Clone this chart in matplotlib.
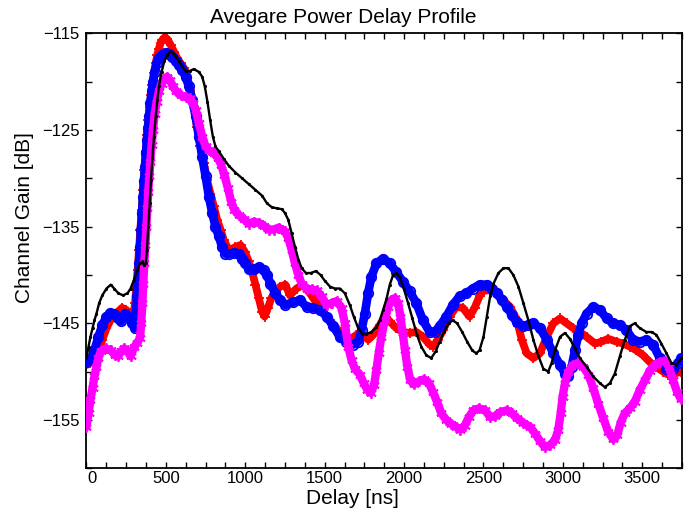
import matplotlib
matplotlib.use("Agg")
import matplotlib.pyplot as plt
import matplotlib.transforms as mtransforms
from matplotlib.ticker import FixedLocator, FixedFormatter

plt.rcParams['font.family'] = ['Liberation Sans', 'DejaVu Sans']

title_text = "Avegare Power Delay Profile"
xlabel_text = "Delay [ns]"
ylabel_text = "Channel Gain [dB]"

red_ns = [0, 25, 50, 75, 100, 126, 151, 176, 199, 224, 249, 274, 295,
          306, 314, 322, 331, 339, 348, 356, 364, 373, 381, 389, 398, 406, 415, 425, 436, 446, 456, 467, 477,
          494, 509, 530, 551, 572, 593, 614, 634, 655, 676, 697, 718, 739, 760, 781, 802, 823, 844, 865, 886, 907,
          938, 970, 997, 1022, 1043, 1064, 1085, 1106, 1122, 1143, 1164, 1189, 1221, 1252,
          1281, 1323, 1365, 1407, 1449, 1491, 1533, 1575, 1616, 1658, 1700, 1742, 1774, 1805, 1847, 1878, 1910,
          1951, 1993, 2035, 2077, 2119, 2161, 2182, 2213, 2245, 2287, 2328, 2370, 2412, 2444, 2475,
          2500, 2542, 2573, 2605, 2636, 2668, 2699, 2720, 2741, 2772, 2814, 2856, 2898, 2940, 2982, 3024, 3065,
          3107, 3149, 3202, 3243, 3285, 3338, 3379, 3421, 3463, 3505, 3547, 3589, 3631, 3662, 3704, 3746]
red_db = [-149.3, -149.1, -148.8, -147.9, -146.7, -145.5, -144.7, -144.0, -143.8, -143.4, -143.6, -144.0, -144.3,
          -142.9, -141.2, -139.5, -137.4, -135.3, -133.3, -131.2, -129.1, -127.2, -125.5, -124.0, -122.6, -121.4,
          -120.3, -119.1, -118.1, -117.2, -116.6, -116.0, -115.7,
          -115.4, -115.6, -116.2, -116.9, -117.6, -118.1, -118.6, -119.5, -120.9, -122.6, -124.7, -126.7, -128.4,
          -130.2, -131.6, -132.9, -134.3, -135.3, -136.4, -137.1, -137.4,
          -137.1, -136.9, -137.6, -138.6, -139.7, -141.0, -142.4, -143.8, -144.3, -143.4, -142.4, -141.6, -141.2, -141.0,
          -142.1, -141.4, -141.0, -141.9, -142.9, -143.8, -144.7, -145.5, -146.4, -146.7, -146.2, -146.2, -146.7,
          -146.2, -145.2, -144.3, -144.8, -145.5, -145.9, -146.0, -145.9, -146.4, -147.2, -147.4, -146.7, -145.7,
          -144.3, -143.3, -143.4, -144.3, -143.4, -142.2,
          -141.6, -141.6, -141.7, -142.2, -142.8, -143.3, -144.3, -145.3, -146.7, -148.1, -148.6, -148.1, -146.4,
          -145.0, -144.5, -145.0, -145.5, -145.9, -146.4, -147.1, -146.9, -146.6, -146.9, -147.1, -147.4, -147.8,
          -148.3, -149.0, -149.5, -150.0, -150.3, -150.2, -150.0]

blue_ns = [0, 25, 50, 75, 100, 126, 151, 176, 199, 218, 243, 268, 289, 306,
           312, 318, 325, 331, 337, 343, 350, 356, 362, 369, 375, 381, 387, 394, 402, 410, 419, 429, 442, 456, 477,
           498, 519, 540, 561, 582, 603, 624, 645, 666, 687, 708, 729, 750, 771, 792, 812, 833, 854, 875, 896,
           928, 959, 980, 1001, 1022, 1053, 1085, 1116, 1137, 1158, 1189, 1221, 1252,
           1302, 1344, 1386, 1428, 1470, 1512, 1554, 1595, 1637, 1679, 1711, 1732, 1753, 1773, 1794, 1826, 1868,
           1910, 1951, 1993, 2035, 2077, 2119, 2161, 2192, 2224, 2266, 2307, 2349, 2391, 2433,
           2475, 2521, 2552, 2584, 2615, 2647, 2678, 2709, 2751, 2783, 2814, 2856, 2898, 2940, 2982, 3013, 3034,
           3055, 3076, 3097, 3118, 3149, 3191, 3233, 3275, 3317, 3359, 3400, 3442, 3484, 3526, 3568, 3610, 3652,
           3694, 3725, 3746]
blue_db = [-149.0, -148.8, -147.8, -146.4, -145.2, -144.3, -143.9, -144.0, -144.5, -144.8, -144.0, -144.3, -145.0, -145.5,
           -144.0, -142.2, -140.5, -138.8, -137.1, -135.3, -133.6, -131.9, -130.3, -128.8, -127.4, -126.0, -124.8,
           -123.6, -122.2, -121.0, -120.0, -119.0, -118.1, -117.6, -117.2,
           -117.0, -117.1, -117.5, -117.9, -118.3, -118.8, -119.5, -120.5, -121.9, -123.6, -125.7, -127.8, -129.8,
           -131.9, -133.6, -135.0, -136.0, -137.1, -137.8, -137.8,
           -137.7, -137.8, -138.3, -138.8, -139.4, -139.4, -139.2, -139.5, -140.0, -140.9, -141.9, -142.6, -143.1,
           -142.8, -142.6, -143.3, -143.4, -143.6, -144.3, -145.3, -146.4, -146.9, -147.2, -146.9, -145.7, -144.0,
           -141.9, -140.2, -138.8, -138.3, -138.8, -139.7, -140.7, -141.7, -142.9, -144.7, -145.9, -145.9, -145.3,
           -144.3, -143.1, -142.2, -141.9, -141.4,
           -141.0, -141.0, -141.4, -141.9, -142.6, -143.3, -144.1, -144.9, -145.3, -145.2, -145.0, -145.5, -146.7,
           -148.1, -149.3, -150.2, -150.5, -149.5, -147.8, -146.2, -145.0, -144.0, -143.3, -143.6, -144.5, -145.0,
           -145.2, -145.7, -146.7, -146.9, -146.7, -147.2, -148.6, -149.7, -149.7, -149.1, -148.6]

magenta_ns = [0, 13, 25, 38, 50, 63, 75, 90, 122, 153, 180, 199, 218, 237, 258, 278, 299, 320, 337,
              345, 352, 358, 364, 371, 377, 383, 389, 396, 402, 410, 419, 429, 442, 456, 473, 490, 507, 523,
              544, 565, 593, 624, 649, 670, 687, 708, 729, 750, 771, 802, 827, 848, 869, 890, 911, 932, 959,
              990, 1022, 1053, 1085, 1116, 1148, 1179, 1210,
              1250, 1271, 1292, 1313, 1334, 1355, 1386, 1418, 1449, 1480, 1512, 1543, 1575, 1606, 1627, 1648,
              1669, 1690, 1721, 1746, 1769, 1790, 1811, 1826, 1840, 1857, 1878, 1899, 1920, 1941, 1962, 1977,
              1991, 2006, 2021, 2039, 2062, 2094, 2125, 2157, 2182, 2207, 2234, 2266, 2297, 2328, 2353, 2381,
              2408, 2437, 2471,
              2510, 2542, 2573, 2605, 2647, 2678, 2709, 2751, 2793, 2825, 2856, 2887, 2919, 2950, 2971, 2986,
              2998, 3013, 3034, 3065, 3097, 3128, 3160, 3191, 3222, 3254, 3285, 3317, 3342, 3363, 3390, 3421,
              3453, 3484, 3516, 3547, 3578, 3610, 3641, 3668, 3694, 3719, 3742]
magenta_db = [-155.7, -154.3, -152.9, -151.7, -150.5, -149.5, -148.6, -147.9, -147.6, -147.8, -148.3, -148.4,
              -147.9, -147.6, -147.9, -148.4, -147.5, -147.0, -146.5,
              -145.0, -142.9, -140.9, -138.8, -136.9, -135.0, -133.1, -131.4, -129.8, -128.3, -126.6, -125.0,
              -123.4, -122.1, -121.0, -120.2, -119.7, -119.5, -119.8, -120.5, -121.0, -121.4, -121.6, -121.7,
              -122.2, -122.9, -124.3, -125.7, -126.7, -127.1, -127.4, -127.9, -128.6, -129.7, -131.0, -132.4,
              -133.3, -133.8, -134.2, -134.7, -134.5, -134.6, -134.9, -135.3, -135.3, -135.1,
              -135.5, -136.2, -137.4, -138.8, -140.0, -140.9, -141.4, -141.5, -141.6, -142.2, -143.1, -142.9,
              -142.7, -143.4, -145.0, -147.4, -148.8, -149.7, -150.3, -151.2, -151.9, -152.2, -151.4, -149.8,
              -148.1, -146.4, -144.7, -143.3, -142.6, -142.4, -142.9, -144.3, -146.0, -147.8, -149.5, -150.9,
              -151.3, -151.0, -150.8, -151.2, -152.1, -153.1, -154.3, -155.0, -155.4, -155.7, -156.0, -155.6,
              -154.7, -154.0, -153.8,
              -154.0, -154.7, -154.6, -154.2, -154.0, -154.3, -154.8, -155.3, -155.7, -156.4, -157.2, -157.8,
              -157.6, -157.1, -156.0, -154.3, -152.6, -151.2, -150.0, -149.3, -149.1, -149.5, -150.3, -151.7,
              -153.3, -154.8, -156.2, -157.0, -156.6, -155.3, -154.3, -153.8, -153.1, -151.9, -150.9, -149.9,
              -149.3, -149.0, -148.9, -149.5, -150.9, -152.1, -152.8]

black_ns = [0, 13, 25, 38, 50, 63, 80, 100, 126, 153, 174, 201, 230, 258, 278, 299, 320, 337, 352, 362,
            373, 381, 389, 398, 406, 415, 425, 436, 446, 456, 473, 490, 509, 530, 544, 561, 582, 603, 624, 649,
            676, 708, 729, 745, 762, 779, 796, 812, 833, 865, 896, 938, 980, 1022, 1064, 1106, 1137, 1168, 1200, 1231,
            1250, 1271, 1292, 1313, 1334, 1355, 1382, 1411, 1445, 1474, 1501, 1533, 1564, 1596, 1627, 1658,
            1683, 1711, 1738, 1763, 1794, 1826, 1847, 1868, 1889, 1910, 1931, 1951, 1972, 1998, 2025, 2052,
            2081, 2108, 2140, 2171, 2199, 2224, 2251, 2280, 2307, 2334, 2366, 2397, 2429, 2454, 2475,
            2500, 2521, 2542, 2563, 2594, 2626, 2657, 2688, 2720, 2751, 2783, 2814, 2846, 2877, 2908, 2929,
            2950, 2982, 3013, 3044, 3076, 3107, 3149, 3191, 3233, 3264, 3296, 3327, 3359, 3390, 3421, 3453,
            3484, 3526, 3558, 3589, 3620, 3652, 3683, 3715, 3746]
black_db = [-148.6, -147.4, -146.4, -145.5, -144.7, -144.0, -142.9, -142.1, -141.4, -141.0, -141.4, -141.9,
            -142.1, -141.9, -141.4, -140.5, -139.5, -138.8, -138.6, -139.0, -138.8, -137.4, -135.0, -132.6,
            -130.2, -127.9, -125.7, -123.6, -121.9, -120.5, -119.0, -117.9, -117.2, -116.9, -117.0, -117.4,
            -117.9, -118.4, -118.9, -118.9, -118.7, -119.0, -119.5, -120.5, -122.1, -124.0, -125.7, -126.7,
            -127.2, -128.0, -128.7, -129.4, -130.0, -130.6, -131.2, -131.8, -132.6, -133.0, -133.1, -133.2,
            -133.6, -134.3, -135.7, -137.1, -138.4, -139.3, -139.8, -139.8, -139.6, -140.0, -140.6, -141.2,
            -141.4, -141.4, -141.9, -143.1, -144.3, -145.5, -146.1, -146.1, -145.9, -145.4, -144.7, -143.6,
            -142.5, -141.0, -140.0, -139.8, -140.2, -141.4, -142.9, -144.5, -146.2, -147.4, -148.3, -148.6,
            -147.9, -146.9, -145.9, -145.0, -144.7, -145.0, -145.9, -146.9, -147.8, -148.1, -147.8,
            -146.4, -144.3, -142.2, -140.9, -139.8, -139.3, -139.3, -140.0, -141.2, -142.9, -144.7, -146.7,
            -148.4, -149.7, -150.0, -149.1, -147.8, -146.4, -146.0, -146.6, -147.6, -148.6, -149.5, -150.5,
            -151.2, -151.6, -151.2, -150.2, -148.4, -146.7, -145.3, -145.0, -145.5, -145.9, -145.9, -146.2,
            -147.1, -148.1, -149.1, -149.3, -148.6]

x_ticks = list(range(0, 3751, 125))
x_labels = ['0', '500', '1000', '1500', '2000', '2500', '3000', '3500']
y_ticks = list(range(-160, -114, 5))
y_labels = ['\u2212115', '\u2212125', '\u2212135', '\u2212145', '\u2212155']

fig = plt.figure(figsize=(6.94, 5.13), dpi=100)
ax = fig.add_axes([0.1246, 0.0871, 0.8581, 0.8480])


def band(x, y, color, marker, ms, mew, lw, z, filled=False):
    ax.plot(x, y, '-', color=color, lw=lw, solid_capstyle='round',
            solid_joinstyle='round', zorder=z)
    ax.plot(x, y, linestyle='none', marker=marker, ms=ms, mew=mew,
            mfc=color if filled else 'none', mec=color, zorder=z + 0.1)


band(red_ns, red_db, '#ff0000', '+', 7, 1.3, 5.6, 2)
band(blue_ns, blue_db, '#0000ff', 'o', 6.8, 1.3, 6.2, 3)
band(magenta_ns, magenta_db, '#ff00ff', (6, 2, 0), 7.5, 1.3, 6.0, 4)
ax.plot(black_ns, black_db, '-', color='black', lw=1.7, zorder=5)
ax.plot(black_ns, black_db, linestyle='none', marker='.', ms=2.5, color='black', zorder=5)

ax.set_xlim(0, 3750)
ax.set_ylim(-160, -115)

ax.xaxis.set_major_locator(FixedLocator(x_ticks))
ax.xaxis.set_major_formatter(FixedFormatter(
    [x_labels[i // 4] if (i % 4 == 0 and i // 4 < len(x_labels)) else '' for i in range(len(x_ticks))]))
ylab_map = {-115: y_labels[0], -125: y_labels[1], -135: y_labels[2], -145: y_labels[3], -155: y_labels[4]}
ax.yaxis.set_major_locator(FixedLocator(y_ticks))
ax.yaxis.set_major_formatter(FixedFormatter([ylab_map.get(v, '') for v in y_ticks]))

ax.tick_params(axis='both', which='major', direction='in', length=4, width=1,
               top=True, right=True, labelsize=12, colors='black')
ax.tick_params(axis='x', pad=2)
ax.tick_params(axis='y', pad=5)
for s in ax.spines.values():
    s.set_linewidth(1.3)

first = ax.xaxis.get_major_ticks()[0].label1
first.set_transform(first.get_transform() +
                    mtransforms.ScaledTranslation(0.055, 0, fig.dpi_scale_trans))

fig.text(0.494, 0.966, title_text, ha='center', va='center', fontsize=15)
fig.text(0.508, 0.028, xlabel_text, ha='center', va='center', fontsize=15)
fig.text(0.036, 0.575, ylabel_text, ha='center', va='center', rotation=90, fontsize=15)

fig.savefig('out.png', dpi=100)
